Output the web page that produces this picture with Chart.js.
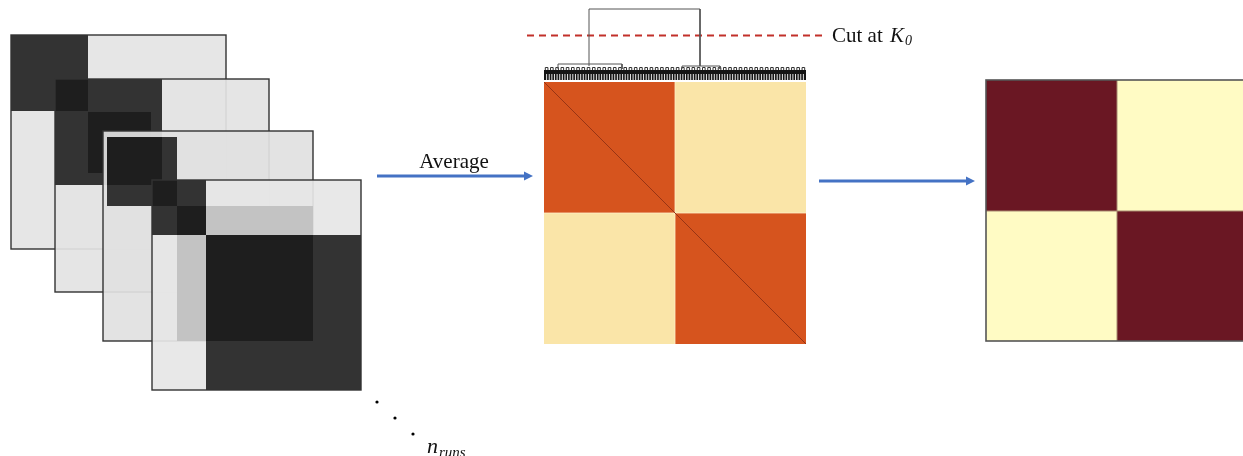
<!DOCTYPE html>
<html>
<head>
<meta charset="utf-8">
<script src="https://cdn.jsdelivr.net/npm/chart.js@4"></script>
<style>
  html, body { margin: 0; padding: 0; background: #fff; }
  #wrap { width: 1243px; height: 456px; }
</style>
</head>
<body>
<div id="wrap"><canvas id="diagram" width="1243" height="456"></canvas></div>
<script>
// Datos del diagrama (bloques de cada matriz de co-asignación y matriz de consenso)
const W = 1243, H = 456;

// matrices de cada corrida: [x0, y0, x1, y1, gris]
const run1Blocks = [[11, 35, 226, 249, 230], [11, 35, 88, 111, 51]];
const run2Blocks = [[55, 79, 269, 292, 227], [55, 79, 162, 185, 51], [55, 79, 88, 111, 30], [88, 112, 151, 173, 30]];
const run3Blocks = [[103, 131, 313, 341, 225], [107, 137, 177, 206, 51], [107, 137, 162, 185, 30]];
const run4Blocks = [[152, 180, 361, 390, 230], [206, 206, 313, 235, 195], [177, 235, 206, 341, 195],
                    [152, 180, 206, 235, 51], [152, 180, 177, 206, 30], [177, 206, 206, 235, 30],
                    [206, 235, 361, 390, 51], [206, 235, 313, 341, 30]];
const runs = [run1Blocks, run2Blocks, run3Blocks, run4Blocks];

// matriz promedio y matriz final (2 clusters)
const consensusValues = [[0.85, 0.15], [0.15, 0.85]];
const finalValues = [[1, 0], [0, 1]];
const leafCount = 100;

// enlaces del dendrograma
const dendroMain = [{x: 589, y: 66}, {x: 589, y: 9}, {x: 700, y: 9}, {x: 700, y: 66}];
const dendroLeft = [{x: 558, y: 69}, {x: 558, y: 64}, {x: 622, y: 64}, {x: 622, y: 69}];
const dendroRight = [{x: 682, y: 69}, {x: 682, y: 66}, {x: 720, y: 66}, {x: 720, y: 69}];
const cutLine = [{x: 527, y: 35.5}, {x: 822, y: 35.5}];
const arrow1 = [{x: 377, y: 176}, {x: 526, y: 176}];
const arrow2 = [{x: 819, y: 181}, {x: 968, y: 181}];
const dots = [{x: 377, y: 402}, {x: 395, y: 418}, {x: 413, y: 434}];

const heat = {x0: 544, y0: 82, x1: 806, y1: 344};
const fin = {x0: 986, y0: 80, x1: 1243, y1: 341, split: 1117, splitY: 211};

function heatColor(v) {
    // amarillo claro -> naranja
    const lo = [250, 229, 168], hi = [214, 84, 30];
    const c = lo.map((l, i) => Math.round(l + (hi[i] - l) * (v - 0.15) / 0.7));
    return 'rgb(' + c.join(',') + ')';
}

const diagramPlugin = {
    id: 'diagram',
    beforeDatasetsDraw(chart) {
        const ctx = chart.ctx;
        const sx = chart.scales.x, sy = chart.scales.y;
        const px = v => sx.getPixelForValue(v), py = v => sy.getPixelForValue(v);
        ctx.save();

        // matrices apiladas
        runs.forEach((blocks, r) => {
            blocks.forEach((b, i) => {
                const g = b[4];
                ctx.fillStyle = (i === 0 && r > 0) ? 'rgba(' + g + ',' + g + ',' + g + ',0.93)' : 'rgb(' + g + ',' + g + ',' + g + ')';
                ctx.fillRect(px(b[0]), py(b[1]), px(b[2]) - px(b[0]), py(b[3]) - py(b[1]));
            });
            const f = blocks[0];
            ctx.strokeStyle = '#333';
            ctx.lineWidth = 1.4;
            ctx.strokeRect(px(f[0]), py(f[1]), px(f[2]) - px(f[0]), py(f[3]) - py(f[1]));
        });

        // matriz de consenso
        const hx = [px(heat.x0), (px(heat.x0) + px(heat.x1)) / 2, px(heat.x1)];
        const hy = [py(heat.y0), (py(heat.y0) + py(heat.y1)) / 2, py(heat.y1)];
        for (let i = 0; i < 2; i++) {
            for (let j = 0; j < 2; j++) {
                ctx.fillStyle = heatColor(consensusValues[i][j]);
                ctx.fillRect(hx[j], hy[i], hx[j + 1] - hx[j], hy[i + 1] - hy[i]);
            }
        }
        ctx.strokeStyle = 'rgba(255,240,200,0.8)';
        ctx.lineWidth = 1;
        ctx.beginPath();
        ctx.moveTo(hx[1], hy[0]); ctx.lineTo(hx[1], hy[2]);
        ctx.moveTo(hx[0], hy[1]); ctx.lineTo(hx[2], hy[1]);
        ctx.stroke();
        ctx.strokeStyle = '#983414';
        ctx.lineWidth = 1;
        ctx.beginPath();
        ctx.moveTo(hx[0], hy[0]); ctx.lineTo(hx[2], hy[2]);
        ctx.stroke();

        // hojas del dendrograma
        const step = (hx[2] - hx[0]) / leafCount;
        ctx.fillStyle = '#151515';
        ctx.fillRect(hx[0], py(70), hx[2] - hx[0], py(80) - py(70));
        ctx.strokeStyle = '#fff';
        ctx.lineWidth = 0.9;
        ctx.beginPath();
        for (let k = 1; k < leafCount; k++) {
            const x = hx[0] + k * step;
            ctx.moveTo(x, py(74)); ctx.lineTo(x, py(80));
        }
        ctx.stroke();
        ctx.strokeStyle = '#333';
        ctx.lineWidth = 1;
        ctx.beginPath();
        for (let k = 0; k < leafCount; k += 2) {
            const x = hx[0] + k * step;
            ctx.moveTo(x + step * 0.5, py(70));
            ctx.lineTo(x + step * 0.5, py(67.5));
            ctx.lineTo(x + step * 1.5, py(67.5));
            ctx.lineTo(x + step * 1.5, py(70));
        }
        ctx.stroke();

        // matriz final
        const fx = [px(fin.x0), px(fin.split), px(fin.x1)];
        const fy = [py(fin.y0), py(fin.splitY), py(fin.y1)];
        for (let i = 0; i < 2; i++) {
            for (let j = 0; j < 2; j++) {
                ctx.fillStyle = finalValues[i][j] ? '#6a1723' : '#fffbc4';
                ctx.fillRect(fx[j], fy[i], fx[j + 1] - fx[j], fy[i + 1] - fy[i]);
            }
        }
        ctx.strokeStyle = '#a88a70';
        ctx.lineWidth = 1;
        ctx.beginPath();
        ctx.moveTo(fx[1], fy[0]); ctx.lineTo(fx[1], fy[2]);
        ctx.moveTo(fx[0], fy[1]); ctx.lineTo(fx[2], fy[1]);
        ctx.stroke();
        ctx.strokeStyle = '#555';
        ctx.lineWidth = 1.6;
        ctx.strokeRect(fx[0], fy[0], fx[2] - fx[0] + 2, fy[2] - fy[0]);
        ctx.restore();
    },
    afterDatasetsDraw(chart) {
        const ctx = chart.ctx;
        const sx = chart.scales.x, sy = chart.scales.y;
        const px = v => sx.getPixelForValue(v), py = v => sy.getPixelForValue(v);
        ctx.save();

        // puntas de flecha
        ctx.fillStyle = '#4472c4';
        [[arrow1, 533], [arrow2, 975]].forEach(([a, tip]) => {
            const y = py(a[0].y);
            ctx.beginPath();
            ctx.moveTo(px(tip), y);
            ctx.lineTo(px(tip - 9), y - 4.5);
            ctx.lineTo(px(tip - 9), y + 4.5);
            ctx.closePath();
            ctx.fill();
        });

        // textos
        ctx.fillStyle = '#111';
        ctx.textBaseline = 'alphabetic';
        ctx.font = '21px "Liberation Serif", "DejaVu Serif", serif';
        ctx.textAlign = 'center';
        ctx.fillText('Average', px(454), py(168));
        ctx.textAlign = 'left';
        ctx.fillText('Cut at ', px(832), py(42));
        const w = ctx.measureText('Cut at ').width;
        ctx.font = 'italic 21px "Liberation Serif", "DejaVu Serif", serif';
        ctx.fillText('K', px(832) + w + 2, py(42));
        const wk = ctx.measureText('K').width;
        ctx.font = 'italic 14px "Liberation Serif", "DejaVu Serif", serif';
        ctx.fillText('0', px(832) + w + 2 + wk + 1, py(45));

        ctx.font = 'italic 22px "Liberation Serif", "DejaVu Serif", serif';
        ctx.fillText('n', px(427), py(453));
        const wn = ctx.measureText('n').width;
        ctx.font = 'italic 15px "Liberation Serif", "DejaVu Serif", serif';
        ctx.fillText('runs', px(427) + wn + 1, py(457));
        ctx.restore();
    }
};

const lineSet = (data, color, width, dash) => ({
    type: 'line', data: data, borderColor: color, borderWidth: width,
    borderDash: dash || [], pointRadius: 0, fill: false, tension: 0
});

new Chart(document.getElementById('diagram').getContext('2d'), {
    type: 'scatter',
    data: {
        datasets: [
            lineSet(dendroMain, '#555', 1),
            lineSet(dendroLeft, '#555', 1),
            lineSet(dendroRight, '#555', 1),
            lineSet(cutLine, '#c2302a', 2, [7, 5]),
            lineSet(arrow1, '#4472c4', 3),
            lineSet(arrow2, '#4472c4', 3),
            {data: dots, pointRadius: 1.6, pointBackgroundColor: '#000', pointBorderWidth: 0}
        ]
    },
    options: {
        responsive: false,
        animation: false,
        layout: { padding: 0, autoPadding: false },
        plugins: { legend: { display: false }, tooltip: { enabled: false } },
        scales: {
            x: { type: 'linear', min: 0, max: W, display: false },
            y: { type: 'linear', min: 0, max: H, reverse: true, display: false }
        }
    },
    plugins: [diagramPlugin]
});
</script>
</body>
</html>
